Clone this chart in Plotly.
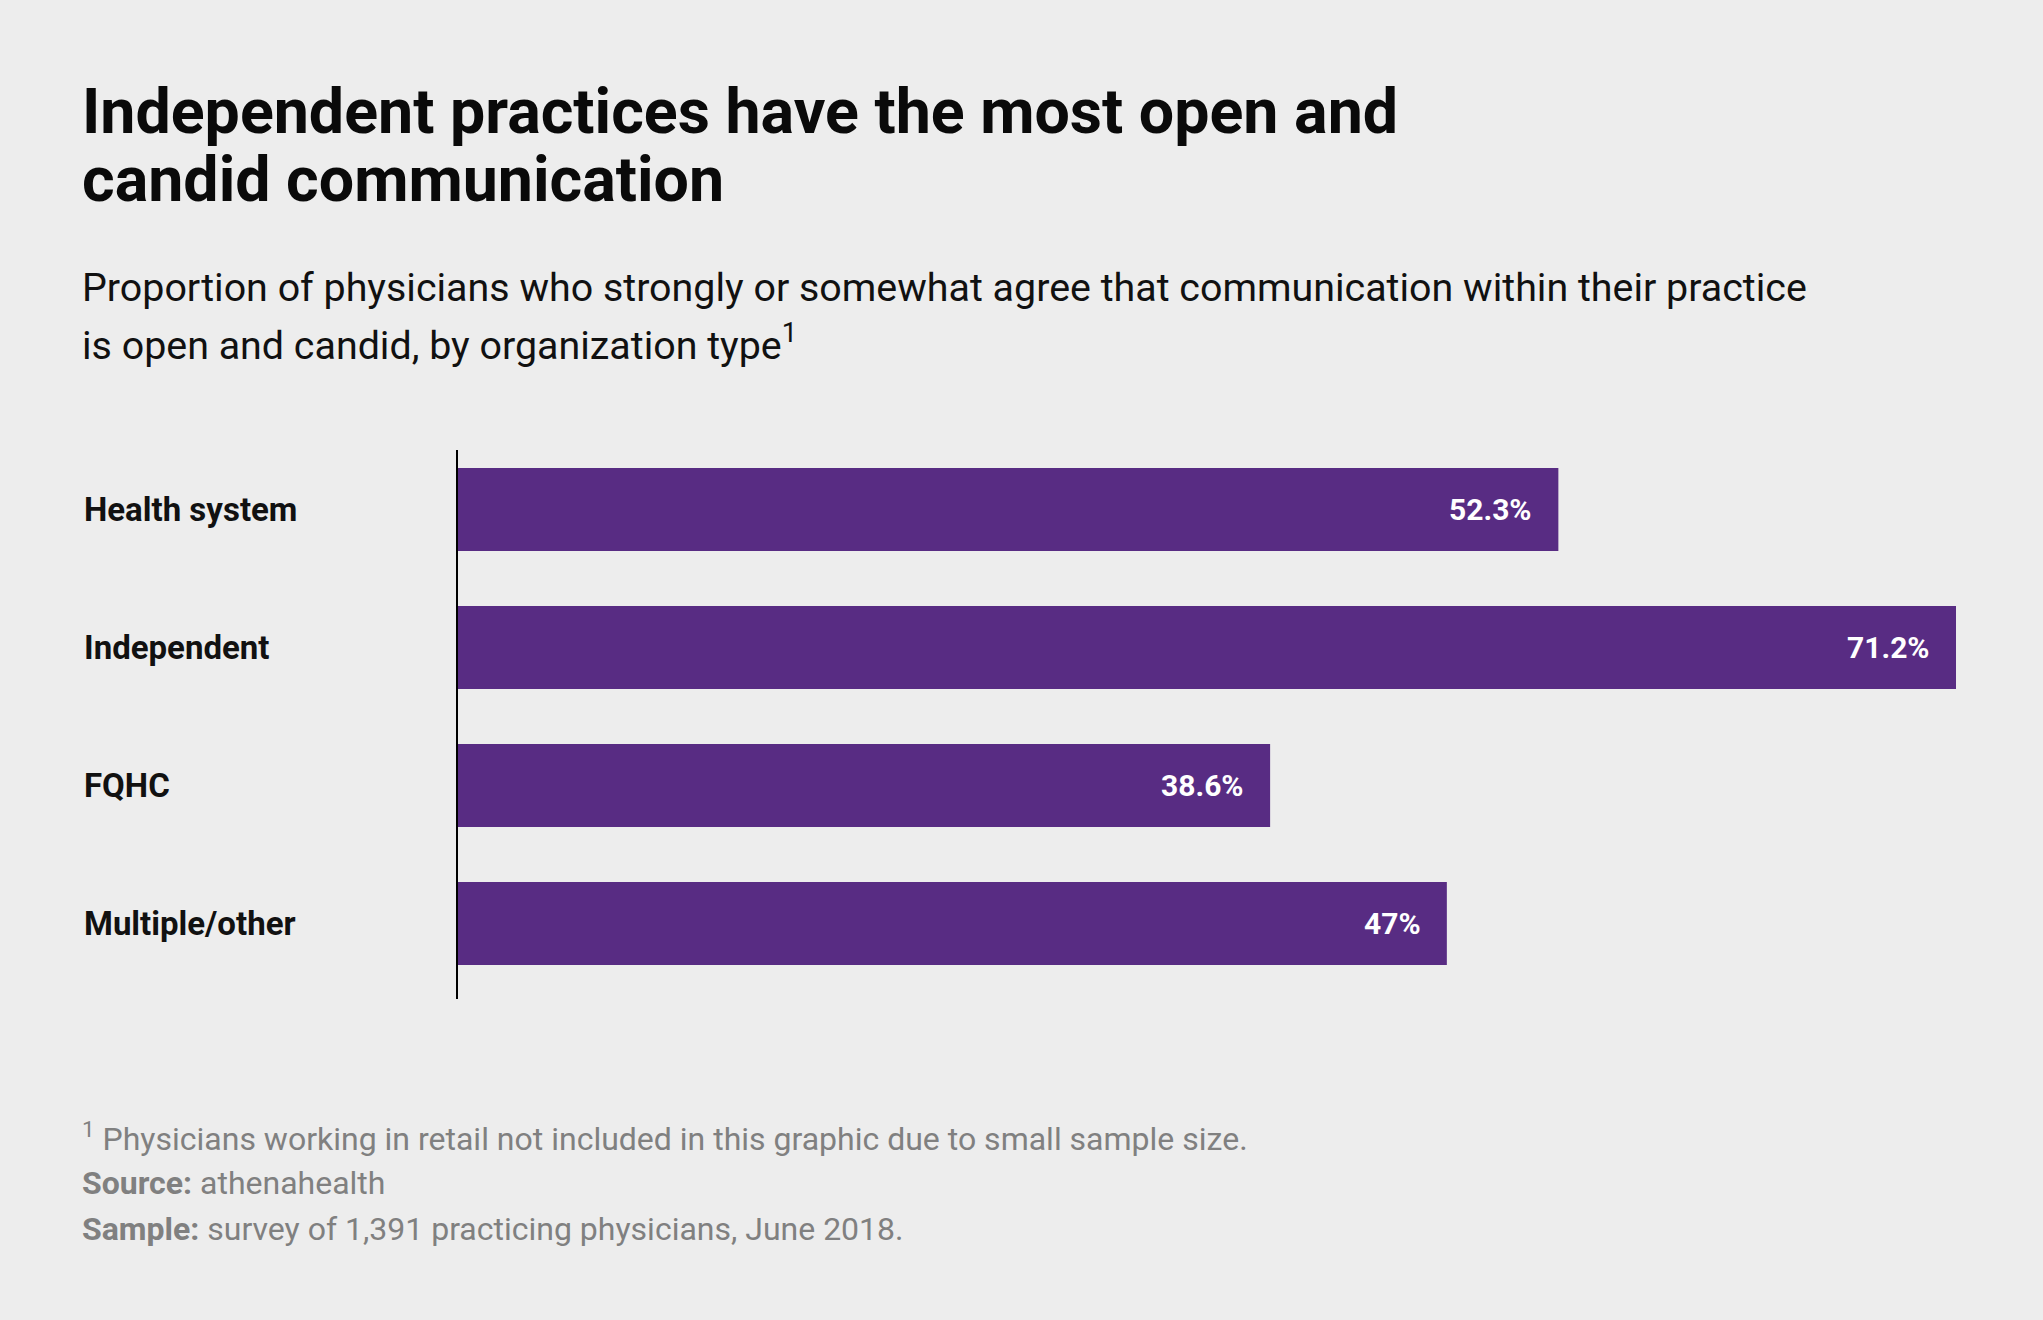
import plotly.graph_objects as go

categories = ["Health system", "Independent", "FQHC", "Multiple/other"]
values = [52.3, 71.2, 38.6, 47]
value_labels = ["52.3%", "71.2%", "38.6%", "47%"]

title_lines = ["Independent practices have the most open and", "candid communication"]
subtitle_lines = ["Proportion of physicians who strongly or somewhat agree that communication within their practice",
                  "is open and candid, by organization type<sup>1</sup>"]
footnote_lines = [
    "<sup>1</sup> Physicians working in retail not included in this graphic due to small sample size.",
    "<b>Source:</b> athenahealth",
    "<b>Sample:</b> survey of 1,391 practicing physicians, June 2018.",
]

W, H = 2043, 1320
ML, MR, MT, MB = 458, 43, 450, 321
PW = W - ML - MR
PH = H - MT - MB

BAR = "#582C83"
BG = "#EDEDED"
FONT = "Roboto"

def px_x(X):
    return (X - ML) / PW

def px_y(Y):
    return (H - MB - Y) / PH

fig = go.Figure()
fig.add_trace(go.Bar(
    x=values, y=categories, orientation="h",
    marker=dict(color=BAR, line=dict(width=0)),
    width=0.60, hoverinfo="skip",
))

ann = []
for c, v, t in zip(categories, values, value_labels):
    ann.append(dict(x=v, y=c, xref="x", yref="y", text=f"<b>{t}</b>", showarrow=False,
                    xanchor="right", yanchor="middle", xshift=-24,
                    font=dict(family=FONT, size=30, color="white")))
    ann.append(dict(x=px_x(82), y=c, xref="paper", yref="y", text=f"<b>{c}</b>", showarrow=False,
                    xanchor="left", yanchor="middle",
                    font=dict(family=FONT, size=33, color="#111111")))

def text_line(txt, yc, size, color, bold=False):
    return dict(x=px_x(80), y=px_y(yc), xref="paper", yref="paper",
                text=(f"<b>{txt}</b>" if bold else txt), showarrow=False,
                xanchor="left", yanchor="middle", align="left",
                font=dict(family=FONT, size=size, color=color))

for txt, yc in zip(title_lines, [111, 180]):
    ann.append(text_line(txt, yc, 62.7, "#0a0a0a", bold=True))
for txt, yc in zip(subtitle_lines, [287, 343]):
    ann.append(text_line(txt, yc, 39.4, "#111111"))
for txt, yc in zip(footnote_lines, [1137, 1183, 1229]):
    ann.append(text_line(txt, yc, 32, "#808080"))

fig.update_layout(
    width=W, height=H,
    margin=dict(l=ML, r=MR, t=MT, b=MB, pad=0),
    paper_bgcolor=BG, plot_bgcolor=BG,
    showlegend=False,
    xaxis=dict(range=[0, 71.2 * PW / (1956 - ML)], visible=False, fixedrange=True),
    yaxis=dict(categoryorder="array", categoryarray=categories,
               range=[3.547, -0.431], showticklabels=False, ticks="",
               showgrid=False, zeroline=False, showline=True, linecolor="#000000", linewidth=2,
               fixedrange=True),
    annotations=ann,
    font=dict(family=FONT),
)

fig.write_html("out.html", config={"displayModeBar": False},
               post_script="document.body.style.margin='0';")
